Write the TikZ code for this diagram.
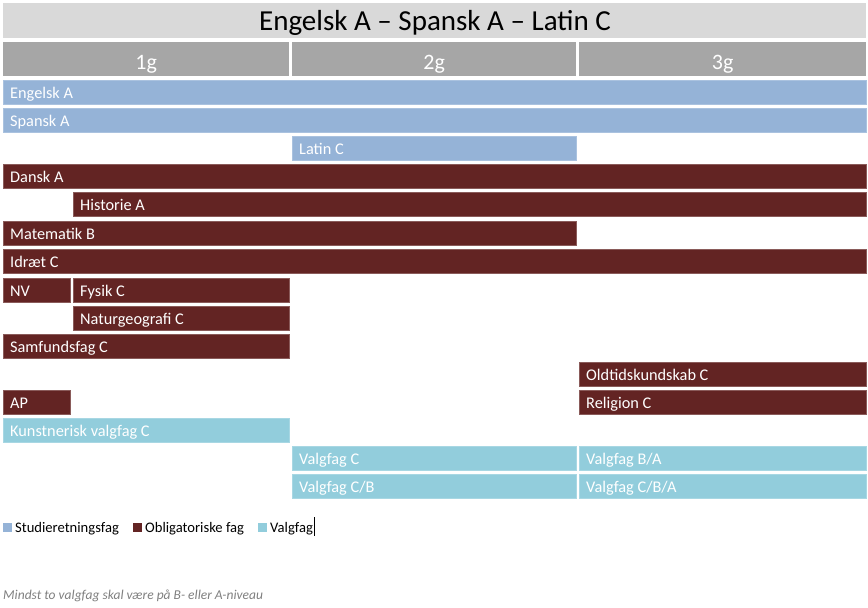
\documentclass[tikz,border=0pt]{standalone}
\usepackage{fontspec}
\setmainfont{Carlito}
\definecolor{titlegray}{HTML}{D9D9D9}
\definecolor{yeargray}{HTML}{A6A6A6}
\definecolor{sblue}{HTML}{95B3D7}
\definecolor{ored}{HTML}{632423}
\definecolor{vblue}{HTML}{92CDDC}
\definecolor{notegray}{HTML}{7F7F7F}
\newcommand\mkbar[6]{%
  \node[#2, minimum width={#4-#3}, anchor=north west] (#1) at (#3,#5) {};
  \node[bartext, anchor=base west] (#1-t) at ([xshift=7pt,yshift=-6.5pt]#1.west) {#6};
}
\begin{document}
\begin{tikzpicture}[x=1pt,y=-1pt,
  barbase/.style={rectangle, inner sep=0pt, minimum height=24pt},
  sbar/.style={barbase, fill=sblue, draw=sblue!80!white, line width=0.6pt},
  obar/.style={barbase, fill=ored, draw=ored!75!white, line width=0.6pt},
  vbar/.style={barbase, fill=vblue, draw=vblue!80!white, line width=0.6pt},
  bartext/.style={inner sep=0pt, text=white, font=\fontsize{16.3}{18}\selectfont},
  yearbox/.style={rectangle, inner sep=0pt, fill=yeargray, minimum height=34pt, anchor=north west},
  yeartext/.style={inner sep=0pt, text=white, font=\fontsize{22}{24}\selectfont},
  legsq/.style={rectangle, inner sep=0pt, minimum size=9pt, anchor=north west},
  legtext/.style={inner sep=0pt, anchor=base west, font=\fontsize{14.6}{16}\selectfont},
]
\useasboundingbox (0,0) rectangle (868,608);
% title
\node[rectangle, inner sep=0pt, fill=titlegray, minimum width=863pt, minimum height=35pt, anchor=north west] (title) at (3,3) {};
\node[inner sep=0pt, anchor=base, font=\fontsize{29}{32}\selectfont] (title-t) at (435,30) {Engelsk A – Spansk A – Latin C};
% years
\node[yearbox, minimum width=286pt] (y1) at (3,42) {};
\node[yearbox, minimum width=284pt] (y2) at (292,42) {};
\node[yearbox, minimum width=287pt] (y3) at (579,42) {};
\node[yeartext, anchor=base] (y1-t) at ([yshift=-10pt]y1.center) {1g};
\node[yeartext, anchor=base] (y2-t) at ([yshift=-10pt]y2.center) {2g};
\node[yeartext, anchor=base] (y3-t) at ([yshift=-10pt]y3.center) {3g};
% bars
\mkbar{eng}{sbar}{3}{866}{80}{Engelsk A}
\mkbar{spa}{sbar}{3}{866}{108}{Spansk A}
\mkbar{lat}{sbar}{292}{576}{136}{Latin C}
\mkbar{dan}{obar}{3}{866}{164}{Dansk A}
\mkbar{his}{obar}{73}{866}{192}{Historie A}
\mkbar{mat}{obar}{3}{576}{221}{Matematik B}
\mkbar{idr}{obar}{3}{866}{249}{Idræt C}
\mkbar{nv}{obar}{3}{70}{278}{NV}
\mkbar{fys}{obar}{73}{289}{278}{Fysik C}
\mkbar{nat}{obar}{73}{289}{306}{Naturgeografi C}
\mkbar{sam}{obar}{3}{289}{334}{Samfundsfag C}
\mkbar{old}{obar}{579}{866}{362}{Oldtidskundskab C}
\mkbar{ap}{obar}{3}{70}{390}{AP}
\mkbar{rel}{obar}{579}{866}{390}{Religion C}
\mkbar{kun}{vbar}{3}{289}{418}{Kunstnerisk valgfag C}
\mkbar{vc}{vbar}{292}{576}{446}{Valgfag C}
\mkbar{vba}{vbar}{579}{866}{446}{Valgfag B/A}
\mkbar{vcb}{vbar}{292}{576}{474}{Valgfag C/B}
\mkbar{vcba}{vbar}{579}{866}{474}{Valgfag C/B/A}
% legend
\node[legsq, fill=sblue] (lg1) at (3,523) {};
\node[legtext] (lg1-t) at (15,532) {Studieretningsfag};
\node[legsq, fill=ored] (lg2) at (133,523) {};
\node[legtext] (lg2-t) at (145,532) {Obligatoriske fag};
\node[legsq, fill=vblue] (lg3) at (258,523) {};
\node[legtext] (lg3-t) at (270,532) {Valgfag};
\coordinate (cur1) at (314,517);
\coordinate (cur2) at (314,536);
\draw[line width=0.7pt] (cur1) -- (cur2);
% note
\node[inner sep=0pt, anchor=base west, text=notegray, font=\fontsize{13.5}{15}\selectfont\itshape] (note) at (3,599) {Mindst to valgfag skal være på B- eller A-niveau};
\end{tikzpicture}
\end{document}
